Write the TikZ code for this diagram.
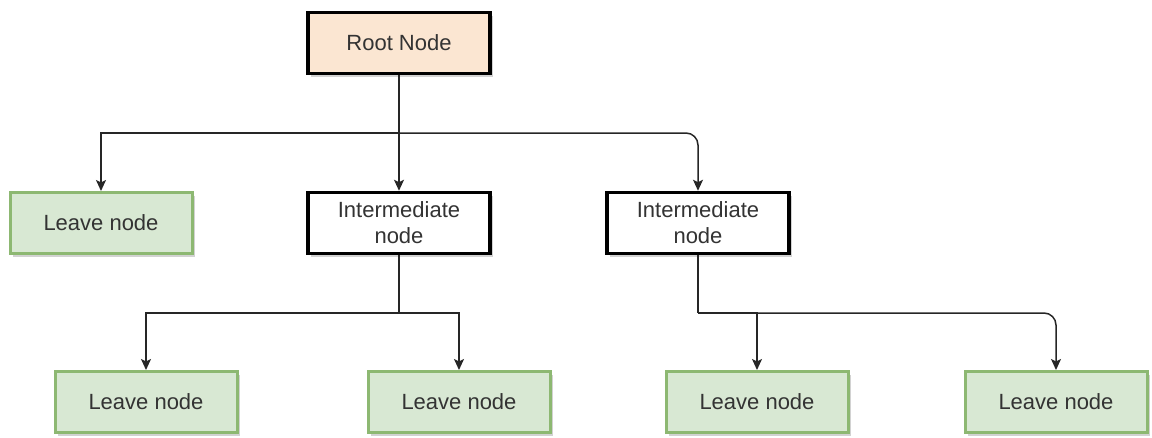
\documentclass[tikz,border=0pt]{standalone}
\usepackage{fontspec}
\setmainfont{Liberation Sans}
\usetikzlibrary{arrows.meta,shadows}
\definecolor{peach}{HTML}{FBE6D2}
\definecolor{leaffill}{HTML}{D8E8D3}
\definecolor{leafdraw}{HTML}{8DB872}
\definecolor{txt}{HTML}{333333}
\tikzset{
  box/.style={minimum width=182pt, minimum height=61pt, inner sep=0pt, align=center,
    font=\fontsize{22}{26}\selectfont, text=txt,
    drop shadow={shadow xshift=3pt, shadow yshift=-3pt, fill=black!35, opacity=0.5}},
  rootbox/.style={box, fill=peach, draw=black, line width=3.5pt},
  midbox/.style={box, fill=white, draw=black, line width=3.5pt},
  leafbox/.style={box, fill=leaffill, draw=leafdraw, line width=3pt},
  conn/.style={draw=black!85, line width=1.5pt, -{Stealth[length=11pt,width=10pt,inset=2.5pt]}},
  plain/.style={draw=black!85, line width=1.5pt}
}
\begin{document}
\begin{tikzpicture}[x=1pt,y=-1pt]
\useasboundingbox (0,0) rectangle (1152,437);
\node[rootbox] (root) at (399,43) {Root Node};
\node[leafbox] (l1) at (101,223) {Leave node};
\node[midbox] (i1) at (399,223) {Intermediate\\node};
\node[midbox] (i2) at (698,223) {Intermediate\\node};
\node[leafbox] (l2) at (146,402) {Leave node};
\node[leafbox] (l3) at (459,402) {Leave node};
\node[leafbox] (l4) at (757,402) {Leave node};
\node[leafbox] (l5) at (1056,402) {Leave node};
\coordinate (hy) at (399,133);
\coordinate (b1) at (399,313);
\coordinate (b2) at (698,313);
\draw[conn] (root.south) -- (i1.north);
\draw[conn] (hy) -| (l1.north);
\draw[conn, rounded corners=12pt] (hy) -| (i2.north);
\draw[plain] (i1.south) -- (b1);
\draw[conn] (b1) -| (l2.north);
\draw[conn] (b1) -| (l3.north);
\draw[plain] (i2.south) -- (b2);
\draw[conn] (b2) -| (l4.north);
\draw[conn, rounded corners=12pt] (b2) -| (l5.north);
\end{tikzpicture}
\end{document}
